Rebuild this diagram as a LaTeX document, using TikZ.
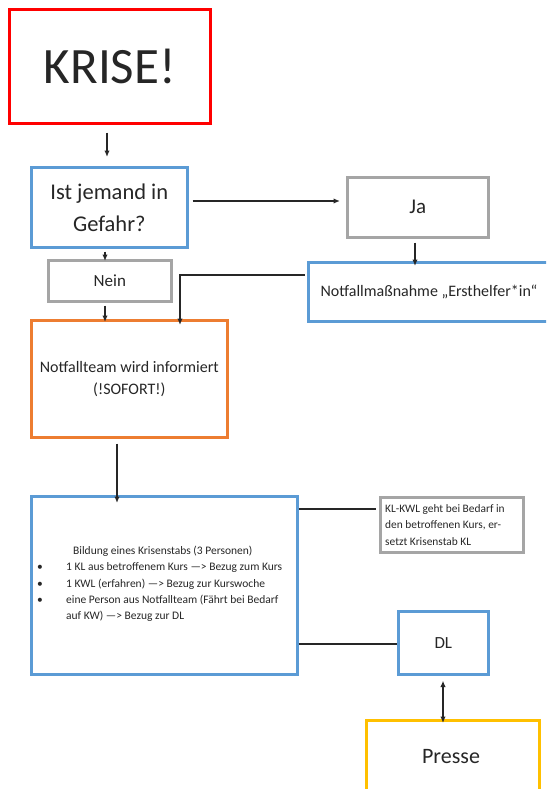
\documentclass[tikz,border=0pt]{standalone}
\usepackage{fontspec}
\setmainfont{Carlito}
\usetikzlibrary{arrows.meta}
\definecolor{cred}{HTML}{FF0000}
\definecolor{cblue}{HTML}{5B9BD5}
\definecolor{cgray}{HTML}{A5A5A5}
\definecolor{corange}{HTML}{ED7D31}
\definecolor{cgold}{HTML}{FFC000}
\definecolor{ctext}{HTML}{262626}
\begin{document}
\begin{tikzpicture}[x=1pt,y=-1pt,
  box/.style={draw, line width=2.6pt, inner sep=0pt, anchor=north west, text=ctext, align=center},
  conn/.style={draw=ctext, line width=1.8pt},
  arr/.style={conn, -{Latex[length=6.5pt,width=5.5pt]}},
  darr/.style={conn, {Latex[length=6.5pt,width=5.5pt]}-{Latex[length=6.5pt,width=5.5pt]}},
  txt/.style={text=ctext, inner sep=0pt}]
\useasboundingbox (0,0) rectangle (546,789);
\clip (0,0) rectangle (546,789);

\node[box, draw=cred, minimum width=201pt, minimum height=114pt, font=\fontsize{51}{55}\selectfont] (krise) at (8,8) {KRISE!};
\node[box, draw=cblue, minimum width=156pt, minimum height=80pt, font=\fontsize{22.5}{32}\selectfont] (gefahr) at (30,166) {Ist jemand in\\Gefahr?};
\node[box, draw=cgray, minimum width=141pt, minimum height=60pt, font=\fontsize{21}{25}\selectfont] (ja) at (346,176) {Ja};
\node[box, draw=cblue, minimum width=245pt, minimum height=59pt] (erst) at (307,261) {};
\node[txt, font=\fontsize{16}{19}\selectfont] (ersttext) at (429,292) {Notfallmaßnahme „Ersthelfer*in“};
\node[box, draw=cgray, minimum width=123pt, minimum height=41pt, font=\fontsize{17}{20}\selectfont] (nein) at (47,259) {Nein};
\node[box, draw=corange, minimum width=196pt, minimum height=117pt, font=\fontsize{16}{22}\selectfont] (team) at (30,319) {Notfallteam wird informiert\\(!SOFORT!)};
\node[box, draw=cblue, minimum width=266pt, minimum height=178pt] (stab) at (30,495) {};
\node[txt, anchor=north west, align=left, font=\fontsize{11.5}{16.3}\selectfont] (stabtext) at (37,546) {%
\hspace*{36pt}Bildung eines Krisenstabs (3 Personen)\\
\makebox[29pt][l]{•}1 KL aus betroffenem Kurs —> Bezug zum Kurs\\
\makebox[29pt][l]{•}1 KWL (erfahren) —> Bezug zur Kurswoche\\
\makebox[29pt][l]{•}eine Person aus Notfallteam (Fährt bei Bedarf\\
\hspace*{29pt}auf KW) —> Bezug zur DL};
\node[box, draw=cgray, minimum width=143pt, minimum height=55pt] (klkwl) at (379,496) {};
\node[txt, anchor=north west, align=left, font=\fontsize{11.4}{16.5}\selectfont] (klkwltext) at (385,504) {KL-KWL geht bei Bedarf in\\den betroffenen Kurs, er-\\setzt Krisenstab KL};
\node[box, draw=cblue, minimum width=90pt, minimum height=63pt, font=\fontsize{17}{20}\selectfont] (dl) at (397,610) {DL};
\node[box, draw=cgold, minimum width=173pt, minimum height=100pt] (presse) at (365,719) {};
\node[txt, font=\fontsize{22}{26}\selectfont] (pressetext) at (451,757) {Presse};

\draw[arr] ([yshift=-8pt]krise.south -| 107,0) -- ([yshift=9pt]gefahr.north -| 107,0);
\draw[arr] ([xshift=4pt]gefahr.east |- 0,201) -- ([xshift=-6pt]ja.west |- 0,201);
\draw[arr] ([yshift=-3pt]gefahr.south -| 105,0) -- ([yshift=-2pt]nein.north -| 105,0);
\draw[arr] ([yshift=-4pt]ja.south -| 415,0) -- ([yshift=-5pt]erst.north -| 415,0);
\draw[arr] ([yshift=-3pt]nein.south -| 105,0) -- ([yshift=-3pt]team.north -| 105,0);
\draw[arr] ([xshift=-2pt]erst.west |- 0,275) -- (180,275) -- ([yshift=-6pt]team.north -| 180,0);
\draw[arr] ([yshift=-5pt]team.south -| 117,0) -- ([yshift=-8pt]stab.north -| 117,0);
\draw[conn] (stab.east |- 0,509) -- ([xshift=-3pt]klkwl.west |- 0,509);
\draw[conn] (stab.east |- 0,644) -- (dl.west |- 0,644);
\draw[darr] ([yshift=-5pt]dl.south -| 443,0) -- ([yshift=-4pt]presse.north -| 443,0);
\end{tikzpicture}
\end{document}
